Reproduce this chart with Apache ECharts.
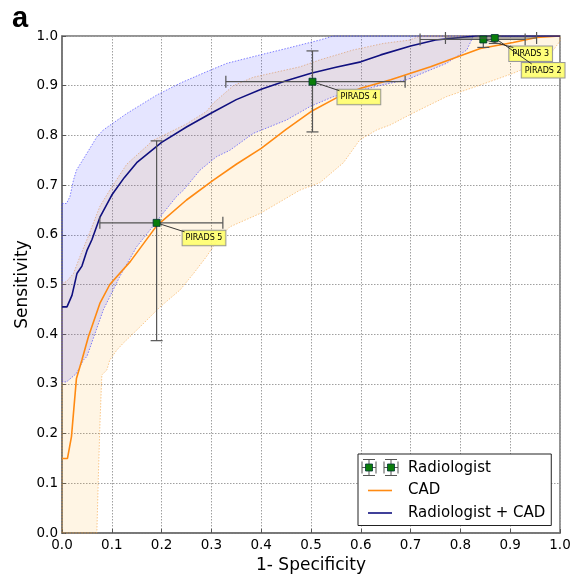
<!DOCTYPE html>
<html>
<head>
<meta charset="utf-8">
<script src="https://cdn.jsdelivr.net/npm/echarts@6/dist/echarts.min.js"></script>
<style>
  html, body { margin: 0; padding: 0; background: #fff; }
  #main { width: 574px; height: 582px; }
</style>
</head>
<body>
<div id="main"></div>
<script>
// CAD ROC curve
var cadX = [0, 0.011, 0.019, 0.029, 0.04, 0.053, 0.076, 0.096, 0.137, 0.19, 0.25, 0.304, 0.35, 0.4, 0.45, 0.5, 0.55, 0.6, 0.66, 0.74, 0.84, 0.906, 0.953, 1.0];
var cadY = [0.15, 0.15, 0.194, 0.311, 0.348, 0.395, 0.462, 0.5, 0.546, 0.618, 0.67, 0.71, 0.742, 0.774, 0.812, 0.848, 0.875, 0.895, 0.912, 0.938, 0.975, 0.987, 0.997, 1.0];

// Radiologist + CAD ROC curve
var comboX = [0, 0.01, 0.02, 0.03, 0.04, 0.05, 0.06, 0.076, 0.1, 0.125, 0.15, 0.2, 0.25, 0.3, 0.35, 0.4, 0.45, 0.5, 0.55, 0.6, 0.64, 0.7, 0.75, 0.8, 0.83, 1.0];
var comboY = [0.455, 0.455, 0.478, 0.522, 0.537, 0.568, 0.59, 0.635, 0.68, 0.715, 0.745, 0.786, 0.817, 0.845, 0.872, 0.893, 0.91, 0.925, 0.937, 0.948, 0.962, 0.98, 0.992, 0.997, 1.0, 1.0];

// CAD confidence band
var cadUpX = [0, 0.009, 0.023, 0.036, 0.05, 0.076, 0.096, 0.13, 0.183, 0.25, 0.29, 0.304, 0.344, 0.384, 0.451, 0.478, 0.518, 0.585, 0.645, 0.699, 0.719, 1.0];
var cadUpY = [0.502, 0.506, 0.522, 0.556, 0.59, 0.657, 0.69, 0.742, 0.79, 0.823, 0.848, 0.865, 0.9, 0.917, 0.932, 0.938, 0.952, 0.972, 0.985, 0.992, 1.0, 1.0];
var cadLoX = [0, 0.07, 0.073, 0.076, 0.08, 0.09, 0.096, 0.11, 0.123, 0.157, 0.197, 0.237, 0.264, 0.29, 0.317, 0.337, 0.398, 0.478, 0.518, 0.565, 0.598, 0.632, 0.659, 0.705, 0.772, 0.839, 0.906, 0.953, 0.987, 1.0];
var cadLoY = [0, 0, 0.113, 0.214, 0.318, 0.328, 0.348, 0.368, 0.382, 0.415, 0.455, 0.489, 0.522, 0.556, 0.596, 0.616, 0.643, 0.69, 0.705, 0.745, 0.791, 0.811, 0.821, 0.845, 0.878, 0.901, 0.925, 0.945, 0.972, 0.99];

// Radiologist + CAD confidence band
var comboUpX = [0, 0.009, 0.016, 0.023, 0.029, 0.05, 0.07, 0.083, 0.13, 0.19, 0.237, 0.29, 0.331, 0.398, 0.451, 0.518, 0.545];
var comboUpY = [0.663, 0.663, 0.677, 0.71, 0.73, 0.764, 0.797, 0.811, 0.844, 0.881, 0.905, 0.928, 0.945, 0.962, 0.975, 0.992, 1.0];
var comboLoX = [0, 0.009, 0.029, 0.043, 0.05, 0.083, 0.116, 0.15, 0.177, 0.197, 0.23, 0.244, 0.277, 0.31, 0.337, 0.384, 0.451, 0.498, 0.545, 0.6, 0.65, 0.692, 0.772, 0.813, 0.826];
var comboLoY = [0.304, 0.304, 0.321, 0.348, 0.355, 0.449, 0.516, 0.576, 0.61, 0.636, 0.677, 0.69, 0.73, 0.757, 0.77, 0.804, 0.831, 0.858, 0.878, 0.891, 0.903, 0.912, 0.945, 0.972, 1.0];

// Radiologist operating points (PIRADS thresholds)
var radLabels = ['PIRADS 5', 'PIRADS 4', 'PIRADS 3', 'PIRADS 2'];
var radX = [0.19, 0.503, 0.846, 0.869];
var radY = [0.624, 0.908, 0.993, 0.996];
var radXLo = [0.076, 0.329, 0.719, 0.77];
var radXHi = [0.323, 0.689, 0.93, 0.953];
var radYLo = [0.387, 0.807, 0.977, 0.985];
var radYHi = [0.789, 0.970, 1.0, 1.0];

var axisTicks = [0, 0.1, 0.2, 0.3, 0.4, 0.5, 0.6, 0.7, 0.8, 0.9, 1.0];

// label box offsets from the point, in pixels: [boxDx, boxDy, lineEndDx]
var labelOffsets = [[26, 8, 2], [25, 8, 2], [26, 7, 4], [27, 25, 10]];

var font = 'DejaVu Sans';
var lineIcon = 'path://M0,0 H24 V1.6 H0 Z';

function pairs(xs, ys) {
  return xs.map(function (x, i) { return [x, ys[i]]; });
}

function band(upX, upY, loX, loY, fill, stroke) {
  return {
    type: 'custom',
    silent: true,
    z: 1,
    data: [[0, 0]],
    renderItem: function (params, api) {
      var pts = [];
      for (var i = 0; i < upX.length; i++) pts.push(api.coord([upX[i], upY[i]]));
      for (var j = loX.length - 1; j >= 0; j--) pts.push(api.coord([loX[j], loY[j]]));
      return {
        type: 'polygon',
        shape: { points: pts },
        style: { fill: fill, stroke: stroke, lineWidth: 0.8, lineDash: [1.5, 1.5] }
      };
    }
  };
}

function renderRad(params, api) {
  var i = params.dataIndex;
  var p = api.coord([api.value(0), api.value(1)]);
  var xl = api.coord([api.value(2), api.value(1)])[0];
  var xh = api.coord([api.value(3), api.value(1)])[0];
  var yl = api.coord([api.value(0), api.value(4)])[1];
  var yh = api.coord([api.value(0), api.value(5)])[1];
  var barStyle = { stroke: '#555', lineWidth: 1.2 };
  var cap = 6;
  var off = labelOffsets[i];
  var bx = p[0] + off[0], by = p[1] + off[1];
  return {
    type: 'group',
    children: [
      { type: 'line', shape: { x1: xl, y1: p[1], x2: xh, y2: p[1] }, style: barStyle },
      { type: 'line', shape: { x1: xl, y1: p[1] - cap, x2: xl, y2: p[1] + cap }, style: barStyle },
      { type: 'line', shape: { x1: xh, y1: p[1] - cap, x2: xh, y2: p[1] + cap }, style: barStyle },
      { type: 'line', shape: { x1: p[0], y1: yl, x2: p[0], y2: yh }, style: barStyle },
      { type: 'line', shape: { x1: p[0] - cap, y1: yl, x2: p[0] + cap, y2: yl }, style: barStyle },
      { type: 'line', shape: { x1: p[0] - cap, y1: yh, x2: p[0] + cap, y2: yh }, style: barStyle },
      {
        type: 'text',
        x: bx, y: by,
        style: {
          text: radLabels[i], fontFamily: font, fontSize: 8, fill: '#000',
          align: 'left', verticalAlign: 'top',
          backgroundColor: 'rgba(255,255,110,0.9)', borderColor: '#999', borderWidth: 1,
          padding: [3.5, 3, 3, 3]
        }
      },
      { type: 'line', shape: { x1: p[0], y1: p[1], x2: bx + off[2], y2: by + 1 }, style: { stroke: '#222', lineWidth: 0.9 } },
      { type: 'rect', shape: { x: p[0] - 3.5, y: p[1] - 3.5, width: 7, height: 7 }, style: { fill: '#0a7d0a', stroke: '#033', lineWidth: 0.8 } }
    ]
  };
}

// errorbar glyph used in the legend for the Radiologist entry
function legendIcon(cx, cy) {
  var s = { stroke: '#555', lineWidth: 1 };
  var segs = [
    [cx - 7, cy, cx + 7, cy], [cx - 7, cy - 6, cx - 7, cy + 6], [cx + 7, cy - 6, cx + 7, cy + 6],
    [cx, cy - 8, cx, cy + 8], [cx - 6, cy - 8, cx + 6, cy - 8], [cx - 6, cy + 8, cx + 6, cy + 8]
  ];
  var out = segs.map(function (g) {
    return { type: 'line', z: 100, silent: true, shape: { x1: g[0], y1: g[1], x2: g[2], y2: g[3] }, style: s };
  });
  out.push({ type: 'rect', z: 101, silent: true, shape: { x: cx - 3.5, y: cy - 3.5, width: 7, height: 7 }, style: { fill: '#0a7d0a', stroke: '#033', lineWidth: 0.8 } });
  return out;
}

var axisCommon = {
  type: 'value',
  min: 0,
  max: 1,
  interval: 0.1,
  axisLine: { onZero: false, lineStyle: { color: '#707070', width: 1.5 } },
  axisTick: { show: true, inside: true, length: 4, lineStyle: { color: '#555' } },
  splitLine: { show: true, lineStyle: { color: '#a0a0a0', type: [1.5, 1.5], width: 1 } },
  axisLabel: {
    color: '#000', fontFamily: font, fontSize: 13.5,
    formatter: function (v) { return axisTicks.indexOf(Math.round(v * 10) / 10) >= 0 ? v.toFixed(1) : ''; }
  },
  nameLocation: 'middle',
  nameMoveOverlap: false,
  nameTextStyle: { color: '#000', fontFamily: font, fontSize: 17 }
};

var chart = echarts.init(document.getElementById('main'));
chart.setOption({
  animation: false,
  backgroundColor: '#fff',
  grid: { left: 62, right: 14, top: 36, bottom: 49, show: true, borderColor: '#707070', borderWidth: 1.5 },
  xAxis: Object.assign({}, axisCommon, {
    name: '1- Specificity', nameGap: 24,
    axisLabel: Object.assign({}, axisCommon.axisLabel, { margin: 5 })
  }),
  yAxis: Object.assign({}, axisCommon, {
    name: 'Sensitivity', nameGap: 31,
    axisLabel: Object.assign({}, axisCommon.axisLabel, { margin: 4 })
  }),
  legend: {
    left: 358, top: 454,
    orient: 'vertical',
    selectedMode: false,
    backgroundColor: '#fff',
    borderColor: '#222', borderWidth: 1, borderRadius: 0,
    padding: [6, 6, 4.5, 10],
    itemWidth: 24, itemHeight: 14, itemGap: 6.5,
    textStyle: { color: '#000', fontFamily: font, fontSize: 15, lineHeight: 16, padding: [0, 0, 0, 11] },
    data: [
      { name: 'Radiologist', icon: 'rect', itemStyle: { color: 'rgba(0,0,0,0)', borderWidth: 0 } },
      { name: 'CAD', icon: lineIcon },
      { name: 'Radiologist + CAD', icon: lineIcon }
    ]
  },
  graphic: [
    { type: 'text', left: 12, top: 4, style: { text: 'a', fontFamily: 'Liberation Sans', fontWeight: 'bold', fontSize: 29, fill: '#000' } }
  ].concat(legendIcon(369, 467.5), legendIcon(391, 467.5)),
  series: [
    band(cadUpX, cadUpY, cadLoX, cadLoY, 'rgba(255,170,30,0.12)', 'rgba(245,160,60,0.7)'),
    band(comboUpX, comboUpY, comboLoX, comboLoY, 'rgba(40,40,255,0.12)', 'rgba(60,60,255,0.8)'),
    {
      name: 'CAD', type: 'line', z: 3, symbol: 'none', silent: true,
      itemStyle: { color: '#ff8a12' },
      lineStyle: { color: '#ff8a12', width: 1.6 },
      data: pairs(cadX, cadY)
    },
    {
      name: 'Radiologist + CAD', type: 'line', z: 3, symbol: 'none', silent: true,
      itemStyle: { color: '#10107f' },
      lineStyle: { color: '#10107f', width: 1.6 },
      data: pairs(comboX, comboY)
    },
    {
      name: 'Radiologist', type: 'custom', z: 5, silent: true,
      itemStyle: { color: '#0a7d0a' },
      encode: { x: [0, 2, 3], y: [1, 4, 5] },
      data: radX.map(function (x, i) { return [x, radY[i], radXLo[i], radXHi[i], radYLo[i], radYHi[i]]; }),
      renderItem: renderRad
    }
  ]
});
</script>
</body>
</html>
